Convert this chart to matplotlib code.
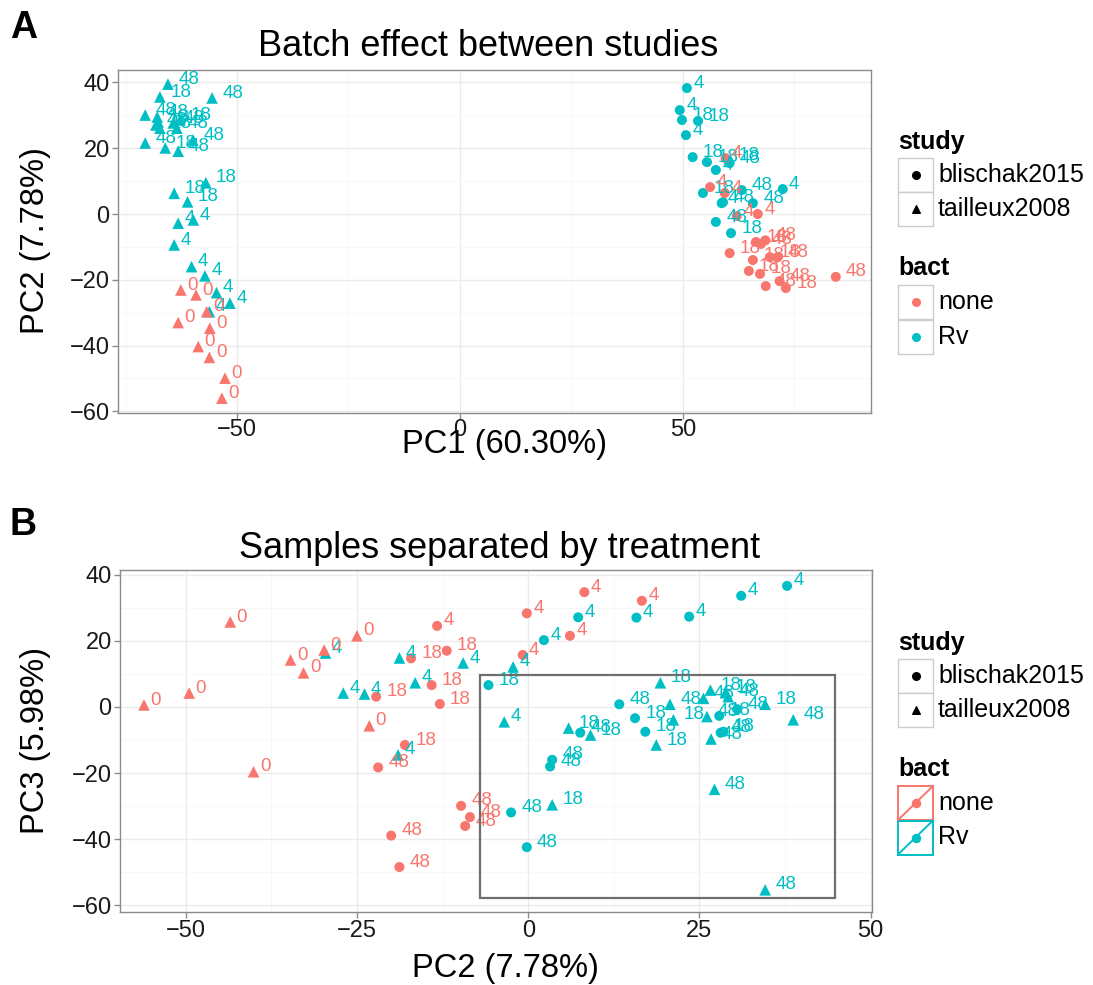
import matplotlib
matplotlib.use("Agg")
import matplotlib.pyplot as plt
from matplotlib.patches import Rectangle
from matplotlib.ticker import MultipleLocator

plt.rcParams['font.family'] = ['Liberation Sans', 'DejaVu Sans']

# ---------------------------------------------------------------------------
# Panel A: PC1 vs PC2 (batch effect between studies)
# ---------------------------------------------------------------------------
A_TAIL_NONE_X = [-62.6, -59.2, -56.8, -63.2, -56.1, -58.7, -56.2, -52.7, -53.4]
A_TAIL_NONE_Y = [-23.1, -24.6, -29.7, -33.0, -34.7, -40.3, -43.6, -49.9, -56.0]
A_TAIL_NONE_T = [0, 0, 0, 0, 0, 0, 0, 0, 0]

A_TAIL_RV_X = [-57.0, -64.1, -61.1, -63.2, -59.8, -64.1, -60.2, -57.2, -54.6, -51.6, -56.2,
               -65.5, -67.3, -55.6, -70.6, -67.9, -67.7, -68.2, -67.3, -64.3, -63.5, -62.8,
               -70.6, -66.1, -63.2, -59.9]
A_TAIL_RV_Y = [9.5, 6.3, 3.7, -2.8, -1.8, -9.4, -16.0, -18.8, -23.9, -27.1, -29.7,
               39.5, 35.6, 35.3, 30.1, 29.5, 28.0, 27.1, 26.1, 27.7, 26.1, 28.6,
               21.6, 20.1, 19.1, 22.5]
A_TAIL_RV_T = [18, 18, 18, 4, 4, 4, 4, 4, 4, 4, 4,
               48, 18, 48, 48, 48, 18, 48, 18, 48, 48, 18,
               48, 18, 48, 48]

A_BLIS_NONE_X = [56.1, 59.4, 59.6, 62.1, 66.8, 60.5, 66.4, 67.5, 68.5, 65.7, 69.5, 71.3,
                 64.8, 67.3, 68.6, 71.7, 73.1, 84.3]
A_BLIS_NONE_Y = [8.2, 6.4, 17.0, -0.6, 0.0, -11.9, -8.5, -9.1, -8.0, -14.0, -13.1, -13.1,
                 -17.3, -18.2, -21.9, -20.4, -22.5, -19.1]
A_BLIS_NONE_T = [4, 4, 4, 4, 4, 18, 18, 48, 48, 18, 18, 48, 18, 18, 48, 48, 18, 48]

A_BLIS_RV_X = [50.9, 49.3, 49.8, 53.4, 50.7, 52.2, 55.4, 60.1, 60.5, 57.4, 54.5, 72.4,
               58.7, 59.0, 65.7, 57.4, 60.8, 63.2]
A_BLIS_RV_Y = [38.3, 31.6, 28.6, 28.3, 24.0, 17.3, 15.8, 16.4, 15.5, 13.4, 6.4, 7.6,
               3.3, 3.6, 3.3, -2.4, -5.8, 7.3]
A_BLIS_RV_T = [4, 4, 18, 18, 4, 18, 18, 18, 48, 4, 18, 4, 4, 48, 48, 48, 18, 48]

# ---------------------------------------------------------------------------
# Panel B: PC2 vs PC3 (samples separated by treatment)
# ---------------------------------------------------------------------------
B_TAIL_NONE_X = [-43.5, -34.7, -32.8, -29.8, -25.0, -56.1, -49.5, -23.2, -40.1]
B_TAIL_NONE_Y = [25.7, 14.2, 10.3, 17.2, 21.5, 0.6, 4.2, -5.7, -19.6]
B_TAIL_NONE_T = [0, 0, 0, 0, 0, 0, 0, 0, 0]

B_TAIL_RV_X = [-29.6, -18.8, -9.5, -16.5, -27.0, -23.9, -3.5, -19.0, -2.2,
               19.3, 26.6, 28.8, 34.6, 21.2, 5.9, 9.1, 18.7, 3.5,
               29.2, 25.6, 20.7, 26.1, 38.7, 26.7, 27.2, 34.6]
B_TAIL_RV_Y = [16.3, 14.8, 13.3, 7.3, 4.2, 3.9, -4.5, -14.5, 12.1,
               7.3, 5.1, 4.3, 0.8, -3.9, -6.4, -8.5, -11.5, -29.6,
               3.1, 2.6, 0.8, -2.9, -3.9, -9.7, -24.9, -55.3]
B_TAIL_RV_T = [4, 4, 4, 4, 4, 4, 4, 4, 4,
               18, 18, 18, 18, 18, 18, 18, 18, 18,
               48, 48, 48, 48, 48, 48, 48, 48]

B_BLIS_NONE_X = [-13.3, -0.2, 8.2, 16.6, 6.1, -0.8,
                 -11.9, -17.1, -14.1, -22.2, -12.9, -18.0,
                 -21.9, -9.8, -8.5, -9.2, -20.0, -18.8]
B_BLIS_NONE_Y = [24.5, 28.3, 34.7, 32.1, 21.5, 15.7,
                 17.0, 14.7, 6.6, 3.1, 0.9, -11.5,
                 -18.3, -29.9, -33.3, -36.0, -38.9, -48.4]
B_BLIS_NONE_T = [4, 4, 4, 4, 4, 4,
                 18, 18, 18, 18, 18, 18,
                 48, 48, 48, 48, 48, 48]

B_BLIS_RV_X = [2.3, 7.3, 15.8, 23.5, 31.1, 37.8,
               -5.8, 15.6, 17.1, 27.9, 28.5,
               30.5, 13.3, 7.6, 3.5, 3.2, 28.1, -2.5, -0.2]
B_BLIS_RV_Y = [20.2, 27.1, 27.0, 27.3, 33.6, 36.6,
               6.6, -3.4, -7.5, -2.7, -7.5,
               -0.7, 0.8, -7.8, -16.0, -18.0, -7.8, -31.9, -42.4]
B_BLIS_RV_T = [4, 4, 4, 4, 4, 4,
               18, 18, 18, 18, 18,
               48, 48, 48, 48, 48, 48, 48, 48]

# zoom box drawn on panel B
BOX_X = [-7.0, 44.8]
BOX_Y = [-57.7, 9.7]

STUDIES = ['blischak2015', 'tailleux2008']
BACT = ['none', 'Rv']
COLORS = {'none': '#F8766D', 'Rv': '#00BFC4'}
MARKERS = {'blischak2015': 'o', 'tailleux2008': '^'}
MSIZE = {'blischak2015': 52, 'tailleux2008': 70}

W, H = 1093, 985
fig = plt.figure(figsize=(W / 100, H / 100), dpi=100)
fig.patch.set_facecolor('white')


def px_axes(left, top, right, bottom):
    return fig.add_axes([left / W, 1 - bottom / H, (right - left) / W, (bottom - top) / H])


def style_axes(ax, xlim, ylim, xmajor, ymajor, xpad):
    ax.set_xlim(*xlim)
    ax.set_ylim(*ylim)
    ax.xaxis.set_major_locator(MultipleLocator(xmajor))
    ax.yaxis.set_major_locator(MultipleLocator(ymajor))
    ax.xaxis.set_minor_locator(MultipleLocator(xmajor / 2))
    ax.yaxis.set_minor_locator(MultipleLocator(ymajor / 2))
    ax.grid(which='major', color='#EBEBEB', lw=1.0, zorder=0)
    ax.grid(which='minor', color='#F7F7F7', lw=0.7, zorder=0)
    ax.set_axisbelow(True)
    for s in ax.spines.values():
        s.set_color('#8C8C8C')
        s.set_linewidth(1.0)
    ax.tick_params(which='major', direction='out', length=4, width=1, color='#8C8C8C',
                   labelsize=17, labelcolor='#1A1A1A', pad=2)
    ax.tick_params(axis='x', which='major', pad=xpad)
    ax.tick_params(which='minor', length=0)


def draw_points(ax, groups):
    # points first, labels afterwards so the text sits on top
    for xs, ys, ts, study, bact in groups:
        ax.scatter(xs, ys, s=MSIZE[study], marker=MARKERS[study], color=COLORS[bact],
                   edgecolors='none', zorder=3)
    for xs, ys, ts, study, bact in groups:
        for x, y, t in zip(xs, ys, ts):
            lab = str(t)
            dx = 4.6 if len(lab) == 1 else 7.4
            ax.annotate(lab, (x, y), xytext=(dx, 0.3), textcoords='offset points',
                        ha='left', va='baseline', fontsize=13.5, color=COLORS[bact],
                        zorder=4)


# ---------------- Panel A ----------------
axA = px_axes(118, 70, 871, 413)
style_axes(axA, (-76.7, 92.2), (-60.5, 43.8), 50, 20, xpad=0)
draw_points(axA, [
    (A_TAIL_RV_X, A_TAIL_RV_Y, A_TAIL_RV_T, 'tailleux2008', 'Rv'),
    (A_TAIL_NONE_X, A_TAIL_NONE_Y, A_TAIL_NONE_T, 'tailleux2008', 'none'),
    (A_BLIS_RV_X, A_BLIS_RV_Y, A_BLIS_RV_T, 'blischak2015', 'Rv'),
    (A_BLIS_NONE_X, A_BLIS_NONE_Y, A_BLIS_NONE_T, 'blischak2015', 'none'),
])

# ---------------- Panel B ----------------
axB = px_axes(120, 570, 872, 912)
style_axes(axB, (-59.6, 50.2), (-62.0, 41.4), 25, 20, xpad=2)
draw_points(axB, [
    (B_TAIL_RV_X, B_TAIL_RV_Y, B_TAIL_RV_T, 'tailleux2008', 'Rv'),
    (B_TAIL_NONE_X, B_TAIL_NONE_Y, B_TAIL_NONE_T, 'tailleux2008', 'none'),
    (B_BLIS_RV_X, B_BLIS_RV_Y, B_BLIS_RV_T, 'blischak2015', 'Rv'),
    (B_BLIS_NONE_X, B_BLIS_NONE_Y, B_BLIS_NONE_T, 'blischak2015', 'none'),
])
axB.add_patch(Rectangle((BOX_X[0], BOX_Y[0]), BOX_X[1] - BOX_X[0], BOX_Y[1] - BOX_Y[0],
                        fill=False, edgecolor='#6E6E6E', lw=1.6, zorder=5))

# ---------------- overlay in pixel coordinates: titles, labels, legends ----------------
ov = fig.add_axes([0, 0, 1, 1])
ov.set_xlim(0, W)
ov.set_ylim(H, 0)
ov.axis('off')
ov.patch.set_alpha(0)

ov.text(10, 28, 'A', fontsize=27, fontweight='bold', ha='left', va='center')
ov.text(10, 525, 'B', fontsize=27, fontweight='bold', ha='left', va='center')

ov.text(488, 47, 'Batch effect between studies', fontsize=26, ha='center', va='center')
ov.text(500, 548, 'Samples separated by treatment', fontsize=26, ha='center', va='center')

ov.text(505, 444, 'PC1 (60.30%)', fontsize=23.5, ha='center', va='center')
ov.text(505, 968, 'PC2 (7.78%)', fontsize=23.5, ha='center', va='center')
ov.text(36, 241, 'PC2 (7.78%)', fontsize=23.5, ha='center', va='center', rotation=90)
ov.text(36, 741, 'PC3 (5.98%)', fontsize=23.5, ha='center', va='center', rotation=90)


def key_box(x, y, edge='#CCCCCC', lw=1.0):
    ov.add_patch(Rectangle((x, y), 35, 34, facecolor='white', edgecolor=edge, lw=lw))


def legend(top, diagonal_keys):
    x0 = 898
    ov.text(x0, top, 'study', fontsize=18, fontweight='bold', ha='left', va='center')
    for i, st in enumerate(STUDIES):
        ky = top + 16 + 34 * i
        key_box(x0, ky)
        ov.scatter([x0 + 17.5], [ky + 17], s=30, marker=MARKERS[st], color='black', zorder=3)
        ov.text(x0 + 40, ky + 17, st, fontsize=18, ha='left', va='center')
    btop = top + 126
    ov.text(x0, btop, 'bact', fontsize=18, fontweight='bold', ha='left', va='center')
    for i, b in enumerate(BACT):
        ky = btop + 17 + 34.5 * i
        c = COLORS[b]
        if diagonal_keys:
            key_box(x0, ky, edge=c, lw=1.4)
            ov.plot([x0, x0 + 35], [ky + 34, ky], color=c, lw=1.4, zorder=3)
            ov.scatter([x0 + 17.5], [ky + 17], s=34, marker='o', color=c, zorder=4)
        else:
            key_box(x0, ky)
            ov.scatter([x0 + 17.5], [ky + 17], s=30, marker='o', color=c, zorder=3)
            ov.text(x0 + 17.5, ky + 17, 'a', fontsize=7, color=c, ha='center', va='center',
                    alpha=0.6, zorder=4)
        ov.text(x0 + 40, ky + 17, b, fontsize=18, ha='left', va='center')


legend(142, diagonal_keys=False)
legend(643, diagonal_keys=True)

fig.savefig('out.png', dpi=100)
